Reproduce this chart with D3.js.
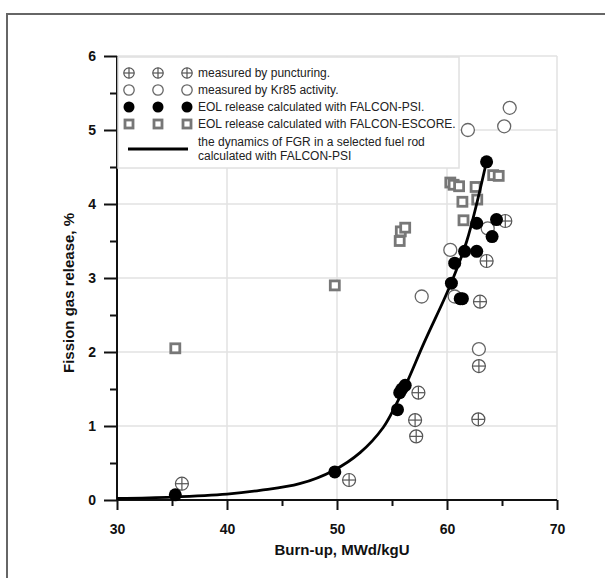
<!DOCTYPE html>
<html><head><meta charset="utf-8">
<script src="https://cdn.jsdelivr.net/npm/d3@7/dist/d3.min.js"></script>
<style>body{margin:0;background:#fff}svg{display:block;font-family:"Liberation Sans",Arial,sans-serif}</style>
</head><body><svg id="c" width="605" height="578"></svg>
<script>
const xTicks=[30,40,50,60,70];
const yTicks=[0,1,2,3,4,5,6];
const punctured=[[35.9,0.22],[51.1,0.27],[57.4,1.45],[57.1,1.08],[57.2,0.86],[63.0,2.68],[62.9,1.81],[62.85,1.09],[65.3,3.77],[63.6,3.23]];
const kr85=[[61.9,5.0],[65.2,5.05],[65.7,5.3],[60.3,3.38],[57.7,2.75],[60.7,2.75],[63.7,3.67],[62.9,2.04]];
const falconPsi=[[35.3,0.07],[49.8,0.38],[55.5,1.22],[55.7,1.45],[56.2,1.55],[55.9,1.5],[63.6,4.57],[62.7,3.74],[64.5,3.79],[64.1,3.56],[61.6,3.36],[62.7,3.36],[60.7,3.2],[60.4,2.93],[61.2,2.72],[61.4,2.72]];
const falconEscore=[[35.3,2.05],[49.8,2.9],[55.7,3.5],[55.8,3.63],[56.2,3.68],[60.3,4.29],[60.6,4.26],[61.1,4.24],[62.6,4.23],[62.75,4.06],[61.4,4.03],[61.5,3.78],[64.2,4.39],[64.7,4.38]];
const fgrCurve=[[30,0.02],[35,0.04],[40,0.08],[43,0.13],[46.6,0.22],[49.7,0.4],[52.1,0.64],[54.2,0.98],[55.4,1.3],[56.3,1.57],[57.9,2.12],[59.7,2.7],[60.4,2.94],[61.8,3.5],[63.45,4.48],[63.6,4.59]];
const legendLabels=["measured by puncturing.","measured by Kr85 activity.","EOL release calculated with FALCON-PSI.","EOL release calculated with FALCON-ESCORE.",["the dynamics of FGR in a selected fuel rod","calculated with FALCON-PSI"]];

const svg=d3.select("#c");
const x=d3.scaleLinear().domain([30,70]).range([117,557]);
const y=d3.scaleLinear().domain([0,6]).range([500,56]);

// frame
svg.append("rect").attr("x",7).attr("y",14).attr("width",620).attr("height",600).attr("fill","none").attr("stroke","#666").attr("stroke-width",2);

// grid
const g=svg.append("g");
g.selectAll(".gx").data(xTicks.slice(1)).join("line").attr("x1",d=>x(d)).attr("x2",d=>x(d)).attr("y1",y(0)).attr("y2",y(6)).attr("stroke","#e2e2e2").attr("stroke-width",1.5);
g.selectAll(".gy").data(yTicks.slice(1)).join("line").attr("x1",x(30)).attr("x2",x(70)).attr("y1",d=>y(d)).attr("y2",d=>y(d)).attr("stroke","#e2e2e2").attr("stroke-width",1.5);

// axes
const xAxis=d3.axisBottom(x).tickValues(xTicks).tickSize(10).tickPadding(14).tickFormat(d3.format("d"));
const xMinor=d3.axisBottom(x).tickValues([35,45,55,65]).tickSize(6).tickFormat("");
const yAxis=d3.axisLeft(y).tickValues(yTicks).tickSize(13).tickPadding(8).tickFormat(d3.format("d"));
const yMinor=d3.axisLeft(y).tickValues([0.5,1.5,2.5,3.5,4.5,5.5]).tickSize(7).tickFormat("");
function style(sel){sel.select(".domain").remove();sel.selectAll("line").attr("stroke","#111").attr("stroke-width",2);sel.selectAll("text").attr("fill","#111").attr("font-weight","bold").attr("font-size",14).attr("font-family","Liberation Sans, Arial, sans-serif");}
svg.append("g").attr("transform",`translate(0,${y(0)})`).call(xAxis).call(style);
svg.append("g").attr("transform",`translate(0,${y(0)})`).call(xMinor).call(style);
svg.append("g").attr("transform",`translate(${x(30)},0)`).call(yAxis).call(style);
svg.append("g").attr("transform",`translate(${x(30)},0)`).call(yMinor).call(style);
svg.append("line").attr("x1",x(30)).attr("x2",x(70)).attr("y1",y(0)).attr("y2",y(0)).attr("stroke","#111").attr("stroke-width",2);
svg.append("line").attr("x1",x(30)).attr("x2",x(30)).attr("y1",y(0)).attr("y2",y(6)).attr("stroke","#111").attr("stroke-width",2);

// titles
svg.append("text").attr("x",342).attr("y",555).attr("text-anchor","middle").attr("font-weight","bold").attr("font-size",15).attr("fill","#111").text("Burn-up, MWd/kgU");
svg.append("text").attr("transform","translate(74,293) rotate(-90)").attr("text-anchor","middle").attr("font-weight","bold").attr("font-size",15).attr("fill","#111").text("Fission gas release, %");

// legend box
svg.append("rect").attr("x",118).attr("y",57).attr("width",341).attr("height",111).attr("fill","#fff").attr("stroke","#e0e0e0").attr("stroke-width",1.5);

function crossCircle(sel,r){
  sel.append("circle").attr("r",r).attr("fill","#fff").attr("stroke","#555").attr("stroke-width",1.2);
  sel.append("line").attr("x1",-r).attr("x2",r).attr("stroke","#555").attr("stroke-width",1.2);
  sel.append("line").attr("y1",-r).attr("y2",r).attr("stroke","#555").attr("stroke-width",1.2);
}
function openCircle(sel,r){sel.append("circle").attr("r",r).attr("fill","#fff").attr("stroke","#666").attr("stroke-width",1.3);}
function filled(sel,r){sel.append("circle").attr("r",r).attr("fill","#000");}
function square(sel,s){sel.append("rect").attr("x",-s/2).attr("y",-s/2).attr("width",s).attr("height",s).attr("fill","#fff").attr("stroke","#777").attr("stroke-width",2.8);}

// data marks
const plot=svg.append("g");
falconEscore.forEach(d=>{const s=plot.append("g").attr("transform",`translate(${x(d[0])},${y(d[1])})`);square(s,9);});
kr85.forEach(d=>{const s=plot.append("g").attr("transform",`translate(${x(d[0])},${y(d[1])})`);openCircle(s,6.5);});
punctured.forEach(d=>{const s=plot.append("g").attr("transform",`translate(${x(d[0])},${y(d[1])})`);crossCircle(s,6.5);});
falconPsi.forEach(d=>{const s=plot.append("g").attr("transform",`translate(${x(d[0])},${y(d[1])})`);filled(s,6.5);});
const line=d3.line().x(d=>x(d[0])).y(d=>y(d[1])).curve(d3.curveCatmullRom.alpha(0.5));
plot.append("path").attr("d",line(fgrCurve)).attr("fill","none").attr("stroke","#000").attr("stroke-width",2.8);

// legend content
const lx=[129,158,187], ly=[73,90,107,124];
const drawers=[s=>crossCircle(s,5.2),s=>openCircle(s,5.2),s=>filled(s,5.5),s=>square(s,8)];
ly.forEach((yy,i)=>{
  lx.forEach(xx=>{const s=svg.append("g").attr("transform",`translate(${xx},${yy})`);drawers[i](s);});
  svg.append("text").attr("x",198).attr("y",yy+4).attr("font-size",12).attr("fill","#222").text(legendLabels[i]);
});
svg.append("line").attr("x1",128).attr("x2",188).attr("y1",149).attr("y2",149).attr("stroke","#000").attr("stroke-width",2.8);
svg.append("text").attr("x",198).attr("y",146).attr("font-size",12).attr("fill","#222").text(legendLabels[4][0]);
svg.append("text").attr("x",198).attr("y",160).attr("font-size",12).attr("fill","#222").text(legendLabels[4][1]);
</script></body></html>
